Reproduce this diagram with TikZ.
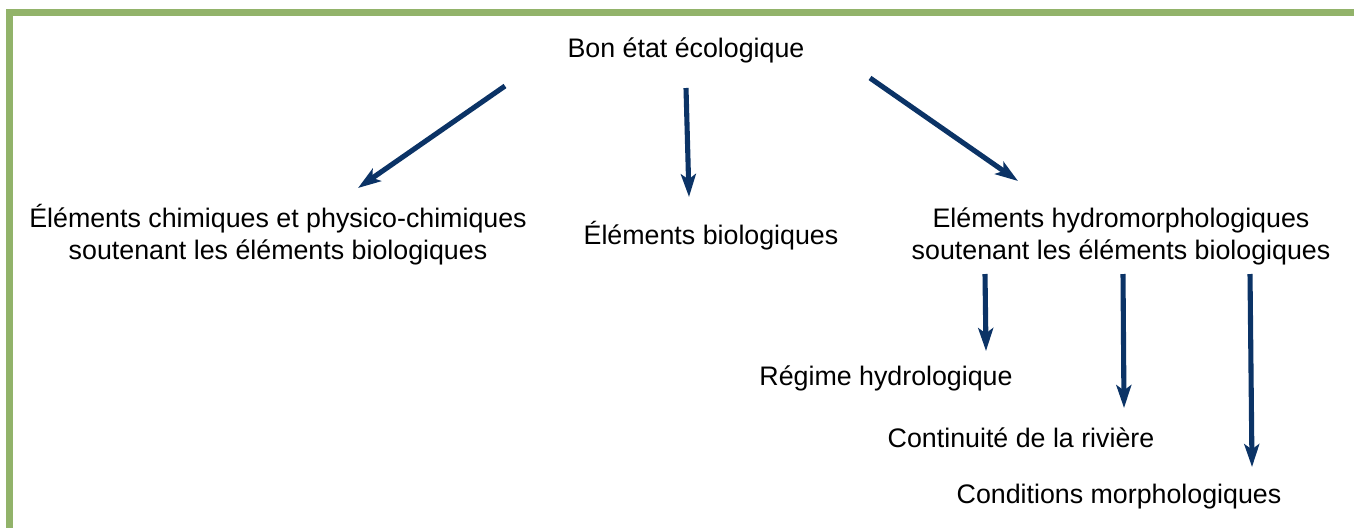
\documentclass[tikz,border=0pt]{standalone}
\usepackage{fontspec}
\setmainfont{Liberation Sans}
\usepackage{tikz}
\usetikzlibrary{arrows.meta, positioning}
\definecolor{cadre}{HTML}{92B36A}
\definecolor{fleche}{HTML}{0B3366}
\tikzstyle{txt} = [inner sep = 0pt, align = center, font = \fontsize{15.25}{18.2}\selectfont]
\tikzstyle{arrow} = [draw = fleche, line width = 2.9pt, -{Stealth[length = 13pt, width = 8.5pt, inset = 3pt]}]

\begin{document}
\begin{tikzpicture}[x = 0.02cm, y = -0.02cm]
			\useasboundingbox (0, 0) rectangle (1354, 528);
			\fill [cadre] (6, 9) rectangle (1354, 16);
			\fill [cadre] (6, 9) rectangle (13, 528);
			
			\node [txt] (bon) at (686, 50) {Bon état écologique};
			\node [txt] (chim) at (278, 235) {Éléments chimiques et physico-chimiques\\soutenant les éléments biologiques};
			\node [txt] (bio) at (711, 236) {Éléments biologiques};
			\node [txt] (hydro) at (1121, 236) {Eléments hydromorphologiques\\soutenant les éléments biologiques};
			\node [txt] (regime) at (886, 378) {Régime hydrologique};
			\node [txt] (conti) at (1021, 438) {Continuité de la rivière};
			\node [txt] (morpho) at (1119, 497) {Conditions morphologiques};
			
			% extremites des fleches
			\coordinate (a1) at (505, 86);   \coordinate (b1) at (358, 188);
			\coordinate (a2) at (686, 88);   \coordinate (b2) at (689, 197);
			\coordinate (a3) at (870, 78);   \coordinate (b3) at (1018, 181);
			\coordinate (a4) at (985, 274);  \coordinate (b4) at (986, 351);
			\coordinate (a5) at (1123, 274); \coordinate (b5) at (1124, 408);
			\coordinate (a6) at (1250, 274); \coordinate (b6) at (1252, 467);
			
			\path [arrow] (a1) -- (b1);
			\path [arrow] (a2) -- (b2);
			\path [arrow] (a3) -- (b3);
			\path [arrow] (a4) -- (b4);
			\path [arrow] (a5) -- (b5);
			\path [arrow] (a6) -- (b6);
		\end{tikzpicture}
\end{document}
